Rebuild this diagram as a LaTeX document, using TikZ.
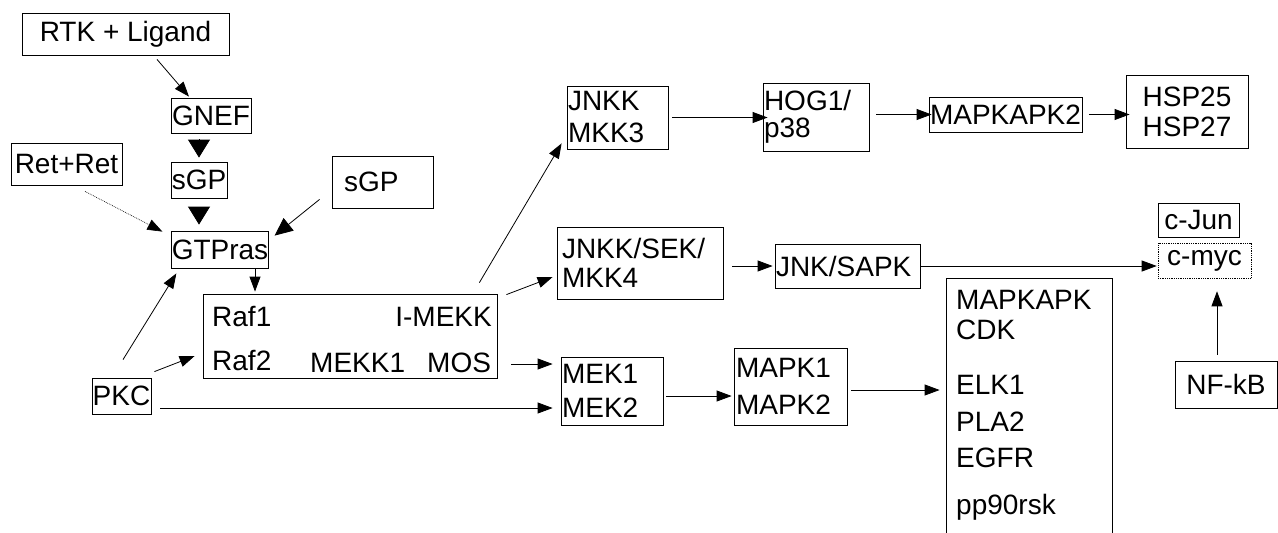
\documentclass[tikz,border=0pt]{standalone}
\usepackage{fontspec}
\setmainfont{Liberation Sans}
\usetikzlibrary{arrows.meta}

\tikzset{
  pbox/.style={draw, line width=0.8pt, inner sep=0pt, font=\fontsize{28}{32}\selectfont},
  lbl/.style={inner sep=0pt, font=\fontsize{28}{32}\selectfont},
  arr/.style={-{Triangle[length=15pt,width=11pt]}, line width=0.8pt},
  bigarr/.style={-{Triangle[length=18pt,width=22pt]}, line width=0.8pt}
}

\begin{document}
\begin{tikzpicture}[x=1pt, y=-1pt]
\useasboundingbox (0,0) rectangle (1278,533);

% Upstream part
\node[pbox, minimum width=207, minimum height=42] (rtk) at (125.5,34) {RTK + Ligand};
\node[pbox, minimum width=80, minimum height=35] (gnef) at (211,115.5) {GNEF};
\node[pbox, minimum width=56, minimum height=36] (sgp) at (199,180) {sGP};
\node[pbox, minimum width=111, minimum height=42] (ret) at (66.5,164) {Ret+Ret};
\node[pbox, minimum width=91, minimum height=52, text width=77, inner xsep=12, align=left] (sgpb) at (382.5,182) {sGP};
\node[pbox, minimum width=96, minimum height=37] (gtp) at (220,249.5) {GTPras};
\node[pbox, minimum width=59, minimum height=36] (pkc) at (121.5,396) {PKC};

% Raf box
\node[pbox, minimum width=294, minimum height=84] (raf) at (350,336) {};
\node[lbl, anchor=base west] (raf1) at (212,326) {Raf1};
\node[lbl, anchor=base east] (imekk) at (492,326) {I-MEKK};
\node[lbl, anchor=base west] (raf2) at (212,370) {Raf2};
\node[lbl, anchor=base west] (mekk1) at (310,372) {MEKK1};
\node[lbl, anchor=base west] (mos) at (427,372) {MOS};

% Kinase cascades
\node[pbox, minimum width=101, minimum height=63, text width=99, inner xsep=1, align=left] (mkk3) at (617.5,117.5) {JNKK\\MKK3};
\node[pbox, minimum width=106, minimum height=68, text width=104, inner xsep=1, align=left] (hog) at (816,117) {HOG1/\\[-5pt]p38};
\node[pbox, minimum width=153, minimum height=35] (mk2) at (1005.5,114.5) {MAPKAPK2};
\node[pbox, minimum width=122, minimum height=73, align=center] (hsp) at (1187,111.5) {HSP25\\[-2pt]HSP27};
\node[pbox, minimum width=166, minimum height=72, text width=156, inner xsep=5, align=left] (jsek) at (640,263) {JNKK/SEK/\\[-3pt]MKK4};
\node[pbox, minimum width=145, minimum height=44, text width=143, inner xsep=1, align=left] (jsap) at (847.5,266) {JNK/SAPK};
\node[pbox, minimum width=102, minimum height=68, text width=100, inner xsep=1, align=left] (mek) at (612,391) {MEK1\\[2pt]MEK2};
\node[pbox, minimum width=113, minimum height=77, text width=109, inner xsep=2, align=left] (mapk) at (790.5,386.5) {MAPK1\\[5pt]MAPK2};

% Targets
\node[pbox, minimum width=166, minimum height=267] (targ) at (1029,411.5) {};
\node[lbl, anchor=north west, align=left] (targlist) at (956,290) {MAPKAPK\\[-2pt]CDK\\[23pt]ELK1\\[5pt]PLA2\\[4pt]EGFR\\[15pt]pp90rsk};
\node[pbox, minimum width=81, minimum height=34] (jun) at (1198.5,220) {c-Jun};
\node[pbox, densely dotted, line width=0.6pt, minimum width=93, minimum height=35] (myc) at (1204.5,260.5) {c-myc};
\node[pbox, minimum width=102, minimum height=47] (nfkb) at (1226,384.5) {NF-kB};

% Connectors
\draw[arr] ([xshift=31.5pt,yshift=-4pt]rtk.south) -- ([xshift=-22pt,yshift=1pt]gnef.north);
\draw[bigarr, shorten <=6pt, shorten >=4pt] ([xshift=-12pt]gnef.south) -- (sgp.north);
\draw[bigarr, shorten <=9pt, shorten >=6pt] (sgp.south) -- (sgp.south |- gtp.north);
\draw[arr, densely dotted, line width=0.6pt] ([xshift=18.5pt,yshift=-6pt]ret.south) -- ([xshift=-9pt,yshift=-1pt]gtp.north west);
\draw[-{Triangle[length=18pt,width=16pt]}, line width=0.8pt] ([xshift=-12pt,yshift=9pt]sgpb.south west) -- ([xshift=6pt,yshift=-5pt]gtp.north east);
\draw[arr, shorten >=2pt] ([xshift=35pt]gtp.south) -- ([xshift=35pt]gtp.south |- raf.north);
\draw[arr] ([xshift=1.5pt,yshift=18pt]pkc.north) -- ([xshift=5pt,yshift=-5pt]gtp.south west);
\draw[arr] ([xshift=3pt,yshift=6pt]pkc.north east) -- ([xshift=-8pt,yshift=-20pt]raf.west);
\draw[arr, shorten <=9pt, shorten >=8pt] ([yshift=-12pt]pkc.east) -- ([yshift=-12pt]pkc.east -| mek.west);
\draw[arr, shorten <=14pt, shorten >=8pt] ([yshift=-28pt]raf.east) -- ([yshift=-28pt]raf.east -| mek.west);
\draw[arr] ([xshift=9pt,yshift=-1pt]raf.north east) -- ([xshift=-4pt,yshift=-14pt]jsek.west);
\draw[arr] ([xshift=-18pt,yshift=11pt]raf.north east) -- ([xshift=-5pt,yshift=6pt]mkk3.south west);
\draw[arr, shorten <=4pt, shorten >=-5pt] (mkk3.east) -- (mkk3.east -| hog.west);
\draw[arr, shorten <=7pt, shorten >=-3pt] (hog.east |- mk2.west) -- (mk2.west);
\draw[arr, shorten <=7pt, shorten >=-4pt] (mk2.east) -- (mk2.east -| hsp.west);
\draw[arr, shorten <=9pt, shorten >=2pt] ([yshift=-3pt]jsek.east) -- ([yshift=-3pt]jsek.east -| jsap.west);
\draw[arr, shorten >=1pt] (jsap.east) -- (jsap.east -| myc.west);
\draw[arr, shorten <=3pt, shorten >=2pt] ([yshift=-5pt]mek.east) -- ([yshift=-5pt]mek.east -| mapk.west);
\draw[arr, shorten <=4pt, shorten >=6pt] ([yshift=-3.5pt]mapk.east) -- ([yshift=-3.5pt]mapk.east -| targ.west);
\draw[arr, shorten <=6pt, shorten >=13pt] ([xshift=-9pt]nfkb.north) -- ([xshift=-9pt]nfkb.north |- myc.south);

\end{tikzpicture}
\end{document}
